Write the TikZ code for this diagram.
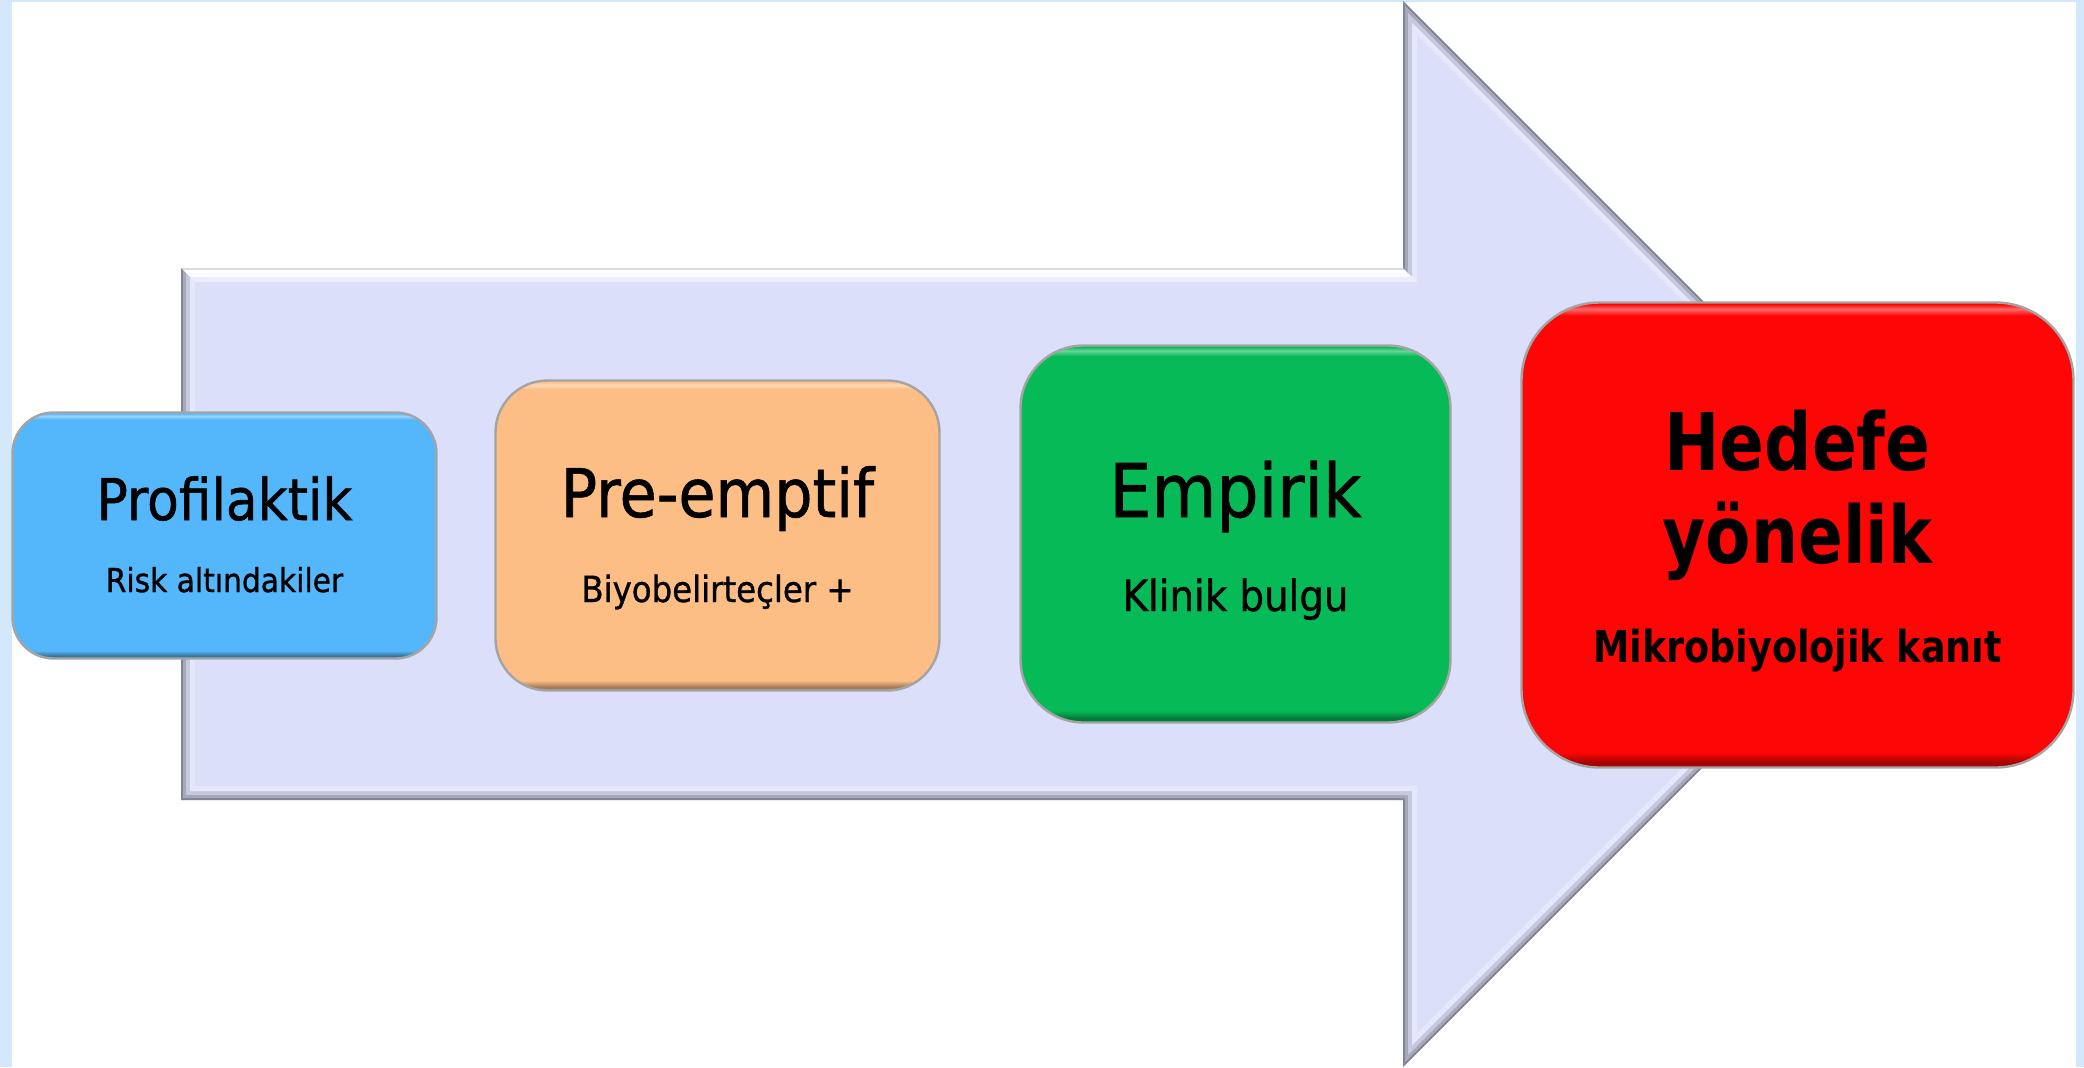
\documentclass[tikz,border=0pt]{standalone}
\usepackage{fontspec}
\newfontfamily\comic[FakeStretch=0.9,FakeBold=0.9]{DejaVu Sans}
\newfontfamily\comicb[FakeStretch=0.83]{DejaVu Sans}
\definecolor{arrowbase}{HTML}{DCDFF9}
\definecolor{frameblue}{HTML}{D3E8FA}
\definecolor{cblue}{HTML}{55B7FB}
\definecolor{corange}{HTML}{FDBE86}
\definecolor{cgreen}{HTML}{06BB57}
\definecolor{cred}{HTML}{FE0606}
\definecolor{boxline}{HTML}{A4A4A4}
\definecolor{ar1}{HTML}{828495}
\definecolor{ar2}{HTML}{A5A7BA}
\definecolor{ar3}{HTML}{C6C8DD}
\definecolor{ar4}{HTML}{E5E7FD}
\definecolor{al1}{HTML}{DADBEA}
\definecolor{al2}{HTML}{FFFFFF}
\definecolor{al3}{HTML}{FAFAFF}
\definecolor{al4}{HTML}{ECEEFF}
\colorlet{bevmid}{cblue}
\colorlet{bevtop}{white}
\colorlet{bevbot}{black}
\pgfdeclareverticalshading[bevtop,bevmid,bevbot]{bevel}{100bp}{color(0bp)=(bevbot); color(25bp)=(bevbot); color(25.6bp)=(bevbot); color(26.6bp)=(bevmid); color(73.6bp)=(bevmid); color(74.3bp)=(bevtop); color(74.8bp)=(bevmid); color(100bp)=(bevmid)}
\tikzset{
  bevbox/.style n args={4}{rectangle, inner sep=0pt, rounded corners=#2,
    minimum width=#3, minimum height=#4, draw=boxline, line width=1.2pt,
    /utils/exec={\colorlet{bevmid}{#1}\colorlet{bevtop}{#1!60!white}\colorlet{bevbot}{#1!65!black}},
    shading=bevel},
  lbl/.style={anchor=base, inner sep=0pt, text=black},
}
\begin{document}
\begin{tikzpicture}[x=0.5pt, y=-0.5pt]
\useasboundingbox (0,0) rectangle (2084,1067);
\fill[white] (0,0) rectangle (2084,1067);
\fill[frameblue] (0,0) rectangle (12,1067);
\fill[frameblue] (2076,0) rectangle (2084,1067);
\fill[frameblue] (0,0) rectangle (2084,1.5);
% arrow
\fill[arrowbase] (181,268) -- (1403,268) -- (1403,1) -- (1936,534) -- (1403,1067) -- (1403,800) -- (181,800) -- cycle;
\foreach \a/\b/\dk/\lt in {0/2/ar1/al1, 2/5/ar2/al2, 5/9/ar3/al3, 9/14/ar4/al4} {
  \fill[\lt] ({181+\a},{268+\a}) -- ({1403+\a},{268+\a}) -- ({1403+\b},{268+\b}) -- ({181+\b},{268+\b}) -- cycle;
  \fill[\dk] ({1403+\a},{268+\a}) -- ({1403+\a},{1+\a*2.41421}) -- ({1403+\b},{1+\b*2.41421}) -- ({1403+\b},{268+\b}) -- cycle;
  \fill[\dk] ({1403+\a},{1+\a*2.41421}) -- ({1936-\a*1.41421},534) -- ({1936-\b*1.41421},534) -- ({1403+\b},{1+\b*2.41421}) -- cycle;
  \fill[\dk] ({1936-\a*1.41421},534) -- ({1403+\a},{1067-\a*2.41421}) -- ({1403+\b},{1067-\b*2.41421}) -- ({1936-\b*1.41421},534) -- cycle;
  \fill[\dk] ({1403+\a},{1067-\a*2.41421}) -- ({1403+\a},{800-\a}) -- ({1403+\b},{800-\b}) -- ({1403+\b},{1067-\b*2.41421}) -- cycle;
  \fill[\dk] ({1403+\a},{800-\a}) -- ({181+\a},{800-\a}) -- ({181+\b},{800-\b}) -- ({1403+\b},{800-\b}) -- cycle;
  \fill[\dk] ({181+\a},{800-\a}) -- ({181+\a},{268+\a}) -- ({181+\b},{268+\b}) -- ({181+\b},{800-\b}) -- cycle;
}
% boxes
\node[bevbox={cblue}{20.5pt}{212pt}{123pt}] (b1) at (224.5,535.5) {};
\node[bevbox={corange}{26pt}{222pt}{155pt}] (b2) at (717.5,535.5) {};
\node[bevbox={cgreen}{31.5pt}{215pt}{188.5pt}] (b3) at (1235.5,534) {};
\node[bevbox={cred}{39pt}{276pt}{232.5pt}] (b4) at (1797.5,535) {};
% texts
\node[lbl, font=\comic\fontsize{28.8pt}{34pt}\selectfont] (t1) at (224.5,520) {Profilaktik};
\node[lbl, font=\comic\fontsize{16.5pt}{20pt}\selectfont] (s1) at (224.5,592) {Risk altındakiler};
\node[lbl, font=\comic\fontsize{33.5pt}{40pt}\selectfont] (t2) at (717.5,517) {Pre-emptif};
\node[lbl, font=\comic\fontsize{18pt}{22pt}\selectfont] (s2) at (717.5,602) {Biyobelirteçler +};
\node[lbl, font=\comic\fontsize{37pt}{44pt}\selectfont] (t3) at (1235.5,517) {Empirik};
\node[lbl, font=\comic\fontsize{21.5pt}{26pt}\selectfont] (s3) at (1235.5,611) {Klinik bulgu};
\node[lbl, font=\comicb\bfseries\fontsize{39.8pt}{46pt}\selectfont] (t4a) at (1797.5,470) {Hedefe};
\node[lbl, font=\comicb\bfseries\fontsize{39.8pt}{46pt}\selectfont] (t4b) at (1797.5,563) {yönelik};
\node[lbl, font=\comicb\bfseries\fontsize{22pt}{26pt}\selectfont] (s4) at (1797.5,662) {Mikrobiyolojik kanıt};
\end{tikzpicture}
\end{document}
